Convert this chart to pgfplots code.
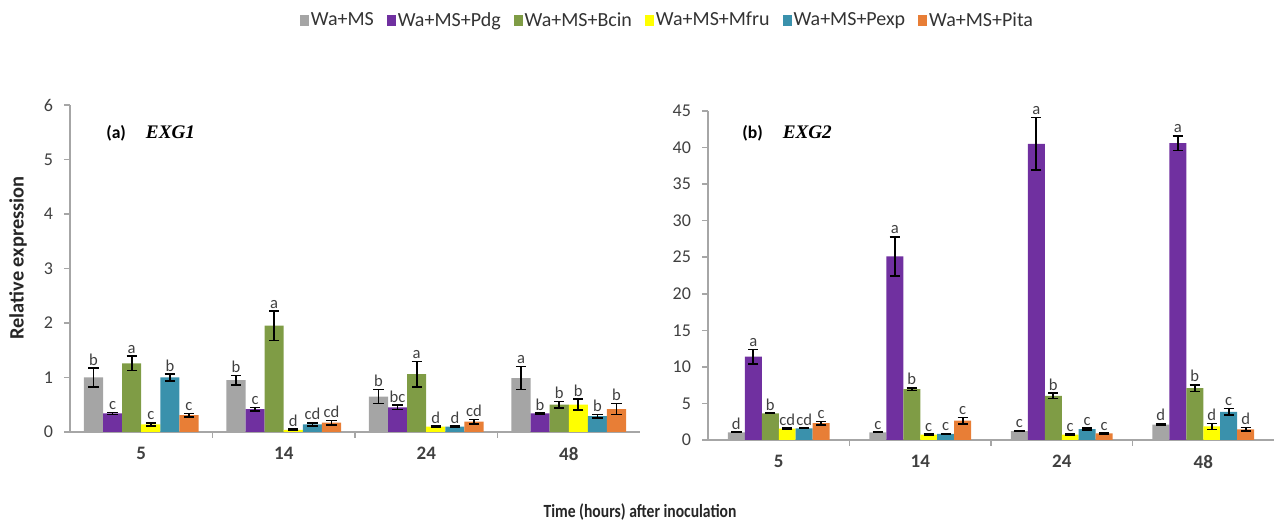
\documentclass[border=0pt]{standalone}
\usepackage{pgfplots}
\pgfplotsset{compat=1.18}
\usepackage{pgfplotstable}
\usepackage{graphicx}
\usepackage{fontspec}
\setmainfont{Carlito}
\newfontfamily\serifbi{Liberation Serif}
\definecolor{cgray}{HTML}{A5A5A5}
\definecolor{cpurple}{HTML}{7030A0}
\definecolor{cgreen}{HTML}{7F9C45}
\definecolor{cyellow}{HTML}{FFFF00}
\definecolor{cteal}{HTML}{3A91AC}
\definecolor{corange}{HTML}{E87E36}
\definecolor{axgray}{HTML}{A6A6A6}
\definecolor{txt}{HTML}{404040}

% EXG1
\pgfplotstableread{
x g    ge   gl p    pe   pl b    be   bl y    ye   yl c    ce   cl o    oe   ol
0 1.00 0.17 b  0.34 0.02 c  1.26 0.13 a  0.14 0.03 c  1.00 0.06 b  0.31 0.03 c
1 0.95 0.09 b  0.42 0.03 c  1.95 0.27 a  0.04 0.01 d  0.14 0.03 cd 0.17 0.04 cd
2 0.65 0.13 b  0.45 0.04 bc 1.06 0.23 a  0.10 0.01 d  0.10 0.01 d  0.19 0.04 cd
3 0.99 0.21 a  0.34 0.01 b  0.50 0.06 b  0.50 0.10 b  0.29 0.03 b  0.42 0.10 b
}\tabA
% EXG2
\pgfplotstableread{
x g    ge   gl p    pe   pl b    be   bl y    ye   yl c    ce   cl o    oe   ol
0 1.05 0.05 d  11.4 1.00 a  3.65 0.05 b  1.55 0.10 cd 1.60 0.05 cd 2.30 0.25 c
1 1.05 0.05 c  25.1 2.70 a  6.95 0.20 b  0.75 0.05 c  0.85 0.05 c  2.65 0.45 c
2 1.20 0.05 c  40.5 3.60 a  6.05 0.35 b  0.75 0.05 c  1.50 0.10 c  0.90 0.05 c
3 2.10 0.10 d  40.6 1.00 a  7.10 0.45 b  1.85 0.40 d  3.85 0.45 c  1.45 0.25 d
}\tabB

\pgfplotsset{
  exc/.style={
    scale only axis, ybar, enlargelimits=false,
    xmin=-0.5, xmax=3.5, ymin=0,
    axis x line*=bottom, axis y line*=left,
    axis line style={draw=axgray, line width=0.8pt},
    x axis line style={-}, y axis line style={-},
    xtick={0.5,1.5,2.5}, xticklabels={},
    extra x ticks={0,1,2,3}, extra x tick labels={5,14,24,48},
    extra x tick style={major tick length=0pt,
      tick label style={font=\fontsize{9.5}{11}\selectfont\bfseries, text=txt, yshift=-4pt}},
    tick align=outside, major tick length=3pt,
    tick style={draw=axgray, line width=0.8pt},
    ytick pos=left, xtick pos=bottom,
    y tick label style={font=\fontsize{9}{10}\selectfont, text=txt, xshift=-2pt},
    /pgf/number format/assume math mode=true,
    nodes near coords, point meta=explicit symbolic,
    every node near coord/.append style={shift={(axis direction cs:0,\err)}, anchor=south,
      font=\fontsize{8.3}{9}\selectfont, text=txt, inner sep=1.2pt},
  },
  bb/.style 2 args={fill=#1, draw=none, bar shift=#2,
    error bars/y dir=both, error bars/y explicit,
    error bars/error bar style={black, line width=0.8pt},
    error bars/error mark options={rotate=90, mark size=2.6pt, line width=0.8pt, black}},
  lab/.style={visualization depends on={\thisrow{#1} \as \err}},
}

\begin{document}
\begin{tikzpicture}
\useasboundingbox (0,0) rectangle (637.5pt,261.5pt);

\begin{axis}[exc,
  at={(35pt,45.5pt)}, anchor=south west,
  width=285pt, height=163.5pt,
  ymax=6, ytick={0,1,...,6},
  bar width=0.134,
  ylabel={Relative expression},
  every axis y label/.style={at={(axis description cs:-0.091,0.532)}, rotate=90, anchor=center,
     font=\fontsize{10.2}{12}\selectfont\bfseries, text=black!85},
  xlabel={\scalebox{0.84}[1]{Time (hours) after inoculation}},
  every axis x label/.style={at={(axis description cs:1.0,-0.245)}, anchor=center,
     font=\fontsize{9.3}{11}\selectfont\bfseries, text=black!85},
  legend columns=6,
  legend style={draw=none, fill=none, at={(1.05,1.258)}, anchor=center,
     font=\fontsize{10}{12}\selectfont, text=black!80,
     /tikz/every even column/.append style={column sep=4.5pt},
     /tikz/every odd column/.append style={column sep=-1pt}},
  legend image code/.code={\fill[#1] (0pt,-2.75pt) rectangle (4.5pt,2.75pt);},
]
\addplot[lab=ge, bb={cgray}{-0.335}] table[x=x, y=g, y error=ge, meta=gl] {\tabA};
\addplot[lab=pe, bb={cpurple}{-0.201}] table[x=x, y=p, y error=pe, meta=pl] {\tabA};
\addplot[lab=be, bb={cgreen}{-0.067}] table[x=x, y=b, y error=be, meta=bl] {\tabA};
\addplot[lab=ye, bb={cyellow}{0.067}] table[x=x, y=y, y error=ye, meta=yl] {\tabA};
\addplot[lab=ce, bb={cteal}{0.201}] table[x=x, y=c, y error=ce, meta=cl] {\tabA};
\addplot[lab=oe, bb={corange}{0.335}] table[x=x, y=o, y error=oe, meta=ol] {\tabA};
\legend{Wa+MS, Wa+MS+Pdg, Wa+MS+Bcin, Wa+MS+Mfru, Wa+MS+Pexp, Wa+MS+Pita}
\node[anchor=west, inner sep=0pt] at (axis description cs:0.063,0.914)
  {\fontsize{8.8}{10}\selectfont\bfseries (a)\hspace{10pt}{\serifbi\fontsize{9.6}{10}\selectfont\bfseries\itshape EXG1}};
\end{axis}

\begin{axis}[exc,
  at={(354pt,41.5pt)}, anchor=south west,
  width=283pt, height=164.5pt,
  ymax=45, ytick={0,5,...,45},
  bar width=0.12,
]
\addplot[lab=ge, bb={cgray}{-0.3}] table[x=x, y=g, y error=ge, meta=gl] {\tabB};
\addplot[lab=pe, bb={cpurple}{-0.18}] table[x=x, y=p, y error=pe, meta=pl] {\tabB};
\addplot[lab=be, bb={cgreen}{-0.06}] table[x=x, y=b, y error=be, meta=bl] {\tabB};
\addplot[lab=ye, bb={cyellow}{0.06}] table[x=x, y=y, y error=ye, meta=yl] {\tabB};
\addplot[lab=ce, bb={cteal}{0.18}] table[x=x, y=c, y error=ce, meta=cl] {\tabB};
\addplot[lab=oe, bb={corange}{0.3}] table[x=x, y=o, y error=oe, meta=ol] {\tabB};
\node[anchor=west, inner sep=0pt] at (axis description cs:0.06,0.933)
  {\fontsize{8.8}{10}\selectfont\bfseries (b)\hspace{10pt}{\serifbi\fontsize{9.6}{10}\selectfont\bfseries\itshape EXG2}};
\end{axis}
\end{tikzpicture}
\end{document}
